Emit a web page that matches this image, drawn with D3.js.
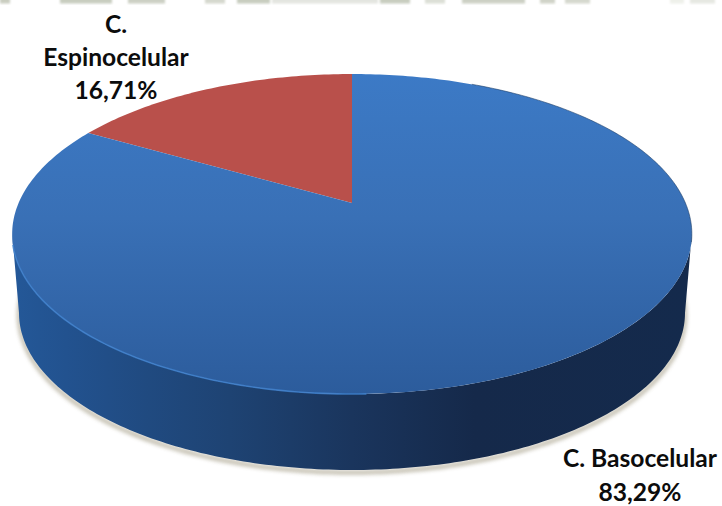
<!DOCTYPE html>
<html><head><meta charset="utf-8">
<script src="https://cdn.jsdelivr.net/npm/d3@7"></script>
<style>html,body{margin:0;padding:0;background:#fff}svg{display:block}text{font-family:Lato,"Open Sans",sans-serif;font-weight:700;fill:#0c0c0c}</style>
</head><body><svg id="c" width="722" height="506"></svg>
<script>
const categories = ["C. Espinocelular", "C. Basocelular"];
const values = [16.71, 83.29];
const valueLabels = ["16,71%", "83,29%"];
const sliceColors = ["#b9504b", "url(#topBlue)"];
const labelLines = [["C.", "Espinocelular", valueLabels[0]], [categories[1], valueLabels[1]]];
const labelAnchors = [[116, 33], [640, 467]];
const labelSteps = [33, 34];
const stripPatches = [[0,10,"#c9cdc0"],[60,52,"#c8cdbf"],[128,37,"#ccd0c4"],[205,20,"#d5d8ce"],[237,33,"#c8cdbf"],[272,106,"#e3e5e0"],[380,30,"#c8cdbf"],[425,20,"#dcdfd6"],[462,63,"#ccd0c4"],[540,15,"#d0d3c8"],[565,25,"#d5d8ce"],[670,14,"#eef0ea"],[690,25,"#e6e8e2"]];

const svg = d3.select("#c");
const defs = svg.append("defs");
function grad(id, horizontal, stops){
  const g = defs.append("linearGradient").attr("id", id)
    .attr("x1", 0).attr("y1", 0).attr("x2", horizontal ? 1 : 0).attr("y2", horizontal ? 0 : 1);
  stops.forEach(s => g.append("stop").attr("offset", s[0]).attr("stop-color", s[1]));
}
grad("topBlue", false, [[0,"#3c7ac6"],[0.45,"#3970b6"],[1,"#2c5c9c"]]);
grad("wall", true, [[0,"#245898"],[0.08,"#22528f"],[0.2,"#204a80"],[0.32,"#1e4373"],[0.5,"#1a355d"],[0.68,"#15294a"],[1,"#142a4c"]]);
function blurFilter(id, sd){
  defs.append("filter").attr("id", id).attr("x","-10%").attr("y","-10%").attr("width","120%").attr("height","120%")
    .append("feGaussianBlur").attr("stdDeviation", sd);
}
blurFilter("soft", 2.2); blurFilter("soft1", 0.7); blurFilter("strip", 1);

// background strip along the top edge
svg.append("g").attr("filter","url(#strip)").selectAll("rect").data(stripPatches).join("rect")
  .attr("x", d => d[0]).attr("y", -3).attr("width", d => d[1]).attr("height", 6.5).attr("fill", d => d[2]);

// projection: unit disc -> perspective ellipse
const cx = 352, apexY = 203, ax = 333.4, by = 114.66, k = 0.19375;
function project(theta, r = 1){
  const x = r * Math.sin(theta), y = r * Math.cos(theta), w = 1 + k * y;
  return [cx + ax * x / w, (apexY - by * y) / w];
}
const line = d3.line();
const deg = Math.PI / 180;
const rim = d3.range(0, 361).map(i => project(i * deg));
const baseCy = 313, baseRx = 333, baseRy = 157;
const base = d3.range(0, 361).map(i => [cx + baseRx * Math.sin(i * deg), baseCy - baseRy * Math.cos(i * deg)]);
const wallOutline = d3.range(101, 260).map(i => rim[i]).concat(d3.range(270, 89, -1).map(i => base[i]));

// contact shadow
svg.append("path").attr("d", line(d3.range(70, 291).map(i => [base[i][0], base[i][1] + 2.5]))).attr("fill", "none")
  .attr("stroke", "#8d8468").attr("stroke-width", 3).attr("opacity", 0.75).attr("filter", "url(#soft)");
// side wall
svg.append("path").attr("d", line(wallOutline) + "Z").attr("fill", "url(#wall)");

// top face from d3.pie (first slice runs anticlockwise from 12 o'clock)
const pie = d3.pie().sort(null).startAngle(0).endAngle(-2 * Math.PI)(values);
svg.append("g").selectAll("path").data(pie).join("path")
  .attr("d", d => {
    const a0 = d.startAngle, a1 = d.endAngle, n = Math.ceil(Math.abs(a1 - a0) * 60);
    const pts = d3.range(n + 1).map(i => project(a0 + (a1 - a0) * i / n));
    return line([project(0, 0), ...pts]) + "Z";
  })
  .attr("fill", (d, i) => sliceColors[i]);
// rim highlight on the front-left edge, thin dark edge on the back right
svg.append("path").attr("d", line(d3.range(178, 256).map(i => rim[i]))).attr("fill","none")
  .attr("stroke","#3f80cc").attr("stroke-width",1.6).attr("filter","url(#soft1)").attr("opacity",0.85);
svg.append("path").attr("d", line(d3.range(25, 105).map(i => rim[i]))).attr("fill","none")
  .attr("stroke","#1f3f68").attr("stroke-width",0.9).attr("opacity",0.65);

// labels
svg.append("g").selectAll("text").data(labelLines.flatMap((ls, i) => ls.map((t, j) => ({t, i, j})))).join("text")
  .attr("x", d => labelAnchors[d.i][0]).attr("y", d => labelAnchors[d.i][1] + d.j * labelSteps[d.i])
  .attr("text-anchor", "middle").attr("font-size", 24.6).text(d => d.t);
</script></body></html>
